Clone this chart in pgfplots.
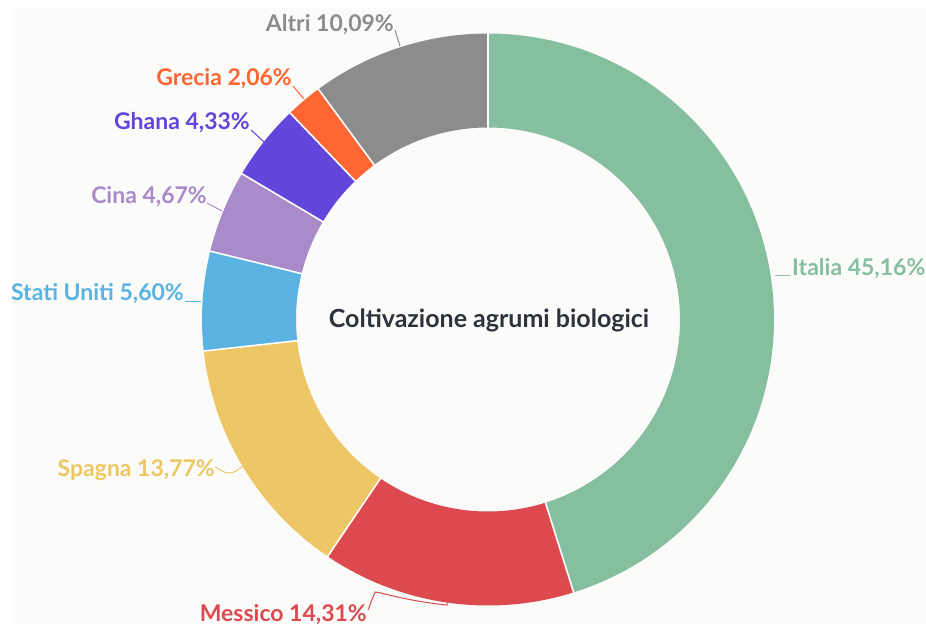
\documentclass[border=0pt]{standalone}
\usepackage{pgfplots}
\usepackage{pgfplotstable}
\pgfplotsset{compat=1.18}
\usepackage{fontspec}
\setmainfont{Lato}

\definecolor{cItalia}{RGB}{134,191,160}
\definecolor{cMessico}{RGB}{220,74,80}
\definecolor{cSpagna}{RGB}{237,199,101}
\definecolor{cStati}{RGB}{91,179,226}
\definecolor{cCina}{RGB}{169,139,201}
\definecolor{cGhana}{RGB}{100,69,220}
\definecolor{cGrecia}{RGB}{255,102,51}
\definecolor{cAltri}{RGB}{140,140,140}
\definecolor{cTitle}{RGB}{46,50,59}
\definecolor{cBg}{RGB}{251,251,250}

% share of organic citrus cultivation (%)
\pgfplotstableread{
country value
Italia 45.16
Messico 14.31
Spagna 13.77
StatiUniti 5.60
Cina 4.67
Ghana 4.33
Grecia 2.06
Altri 10.09
}\datatable

\def\cum{0}
\pgfplotsforeachungrouped \i in {0,...,7}{%
  \pgfplotstablegetelem{\i}{value}\of\datatable
  \pgfmathsetmacro\angA{90-3.6*\cum}%
  \pgfmathsetmacro\cum{\cum+\pgfplotsretval}%
  \pgfmathsetmacro\angB{90-3.6*\cum}%
  \expandafter\xdef\csname sa\i\endcsname{\angA}%
  \expandafter\xdef\csname sb\i\endcsname{\angB}%
}

\newcommand\slice[2]{%
  \addplot[draw=#2, line width=94pt, line cap=butt, line join=round, no markers,
    domain=\csname sb#1\endcsname:\csname sa#1\endcsname, samples=160]
    ({488+239*cos(x)},{313.5+239*sin(x)});
}

\tikzset{lbl/.style={font=\bfseries\fontsize{23}{27}\selectfont, inner sep=0pt}}

\begin{document}
\begin{tikzpicture}
\begin{axis}[
  x=1pt, y=1pt,
  xmin=0, xmax=926, ymin=0, ymax=633,
  hide axis, clip=false,
]
\path[fill=white] (axis cs:0,0) rectangle (axis cs:926,633);
\path[fill=cBg] (axis cs:13,10) rectangle (axis cs:926,625);

\slice{0}{cItalia}
\slice{1}{cMessico}
\slice{2}{cSpagna}
\slice{3}{cStati}
\slice{4}{cCina}
\slice{5}{cGhana}
\slice{6}{cGrecia}
\slice{7}{cAltri}

\pgfplotsinvokeforeach{0,...,7}{%
  \draw[white, line width=1.6pt]
    (axis cs:{488+189*cos(\csname sa#1\endcsname)},{313.5+189*sin(\csname sa#1\endcsname)}) --
    (axis cs:{488+289*cos(\csname sa#1\endcsname)},{313.5+289*sin(\csname sa#1\endcsname)});
}

% centre title
\node[anchor=base, inner sep=0pt, text=cTitle, font=\bfseries\fontsize{25}{30}\selectfont]
  at (axis cs:489,305.7) {Coltivazione agrumi biologici};

% labels
\node[lbl, anchor=base west, text=cItalia] at (axis cs:792,358) {Italia 45,16\%};
\draw[cItalia, line width=1pt] (axis cs:775,358) -- (axis cs:790,358);

\node[lbl, anchor=base east, text=cMessico] at (axis cs:367,11.3) {Messico 14,31\%};
\draw[cMessico, line width=1pt] (axis cs:368,23) -- (axis cs:375,41) -- (axis cs:381,40)
  .. controls (axis cs:400,35) and (axis cs:425,30) .. (axis cs:447,28) -- (axis cs:447,33);

\node[lbl, anchor=base east, text=cSpagna] at (axis cs:215,156.3) {Spagna 13,77\%};
\draw[cSpagna, line width=1pt] (axis cs:215,166) .. controls (axis cs:221,163) and (axis cs:224,160) .. (axis cs:229,160)
  .. controls (axis cs:234,160) and (axis cs:238,163) .. (axis cs:243,167);

\node[lbl, anchor=base east, text=cStati] at (axis cs:184,333) {Stati Uniti 5,60\%};
\draw[cStati, line width=1pt] (axis cs:185,332) -- (axis cs:201,332);

\node[lbl, anchor=base east, text=cCina] at (axis cs:207,429) {Cina 4,67\%};
\draw[cCina, line width=1pt] (axis cs:207,430) -- (axis cs:222,422);

\node[lbl, anchor=base east, text=cGhana] at (axis cs:250,503) {Ghana 4,33\%};
\draw[cGhana, line width=1pt] (axis cs:251,503) -- (axis cs:264,491);

\node[lbl, anchor=base east, text=cGrecia] at (axis cs:292,547) {Grecia 2,06\%};
\draw[cGrecia, line width=1pt] (axis cs:293,547) -- (axis cs:304,534);

\node[lbl, anchor=base east, text=cAltri] at (axis cs:394,601.3) {Altri 10,09\%};
\draw[cAltri, line width=1pt] (axis cs:395,603) -- (axis cs:400,587);
\end{axis}
\end{tikzpicture}
\end{document}
